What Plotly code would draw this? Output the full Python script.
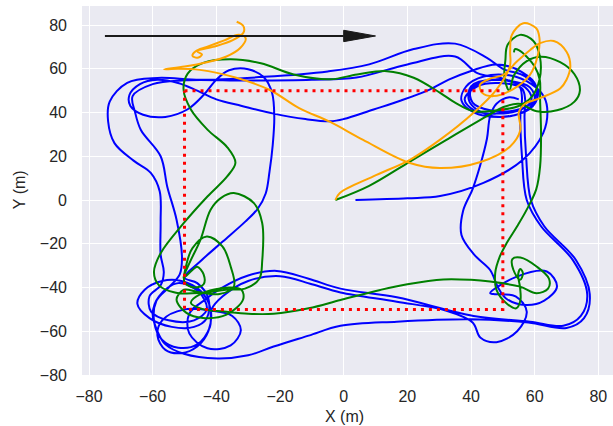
import plotly.graph_objects as go

# ---------------- data ----------------
x_ticks = [-80, -60, -40, -20, 0, 20, 40, 60, 80]
y_ticks = [-80, -60, -40, -20, 0, 20, 40, 60, 80]

# reference square (red dotted)
ref_x = [-50, 50, 50, -50, -50]
ref_y = [50, 50, -50, -50, 50]

# direction arrow
arrow_x = [-75, 0]
arrow_y = [75, 75]
arrow_head_x = [0, 10, 0, 0]
arrow_head_y = [72.4, 75, 77.6, 72.4]

blue_path = [
    (3.7, 0), (20, 0.8), (30.3, 1.8), (43.9, 7.8), (56.4, 18.5), (62.7, 30.7), (64, 40),
    (63, 47), (59, 53), (52, 57), (44, 56.5), (38.5, 52), (37, 45.5), (41, 40), (49, 38),
    (56, 40), (60, 45.5), (58.5, 51.5), (52, 54.5), (45, 54.5), (40, 50.5), (40.5, 44.5),
    (46, 41), (54, 41), (59.5, 45), (60.5, 52), (56, 58.5), (48, 62), (40, 59), (33, 55),
    (27, 50.5), (18, 45.5),
    (9.4, 41.4), (0, 37), (-4.2, 36), (-12, 37), (-22, 39.5), (-32, 43), (-40, 46), (-46, 50),
    (-52, 53.5), (-58.5, 55), (-64, 53), (-67.3, 48), (-67, 43), (-63, 39), (-56, 38),
    (-49, 41.5), (-44, 48), (-40, 55), (-36, 59.3), (-30, 59.8), (-25, 56), (-22.5, 49),
    (-21.8, 38), (-22.3, 25), (-23.3, 13), (-24.5, 3), (-27, -4), (-31, -10), (-38, -19),
    (-45, -28), (-50, -35.5),
    (-46, -38), (-42.5, -45), (-43, -54), (-47, -58), (-54, -58), (-61, -54), (-64.8, -47.5),
    (-62.5, -41), (-57, -37), (-51, -37), (-45, -41.5), (-41.8, -50), (-42.5, -60), (-46, -67),
    (-51, -70), (-56, -68.5), (-58.5, -62), (-57, -55), (-50, -50), (-42, -50.5), (-35, -53),
    (-32.3, -59.5), (-35.5, -66.5), (-42.8, -67.8), (-48.5, -61), (-48.5, -52), (-43, -45),
    (-38.7, -40.5), (-30, -34.5), (-21, -32.4), (-11, -36), (-1, -40.5), (16.7, -44.5),
    (40.8, -53), (58.5, -55.6), (69, -57.5), (74.5, -53), (76.5, -43), (72, -27.5), (62, -12),
    (57.5, 0), (56, 20), (55.5, 38), (56, 47),
    (55, 52.5), (47, 55), (40, 52), (39.5, 45), (45, 39), (53, 38.5), (59.5, 43), (61, 50),
    (57, 56.5), (50, 60), (45, 65), (35, 71.5), (22, 69), (8, 62), (-5, 58.8), (-25, 56.3),
    (-45, 55),
    (-58.5, 55.8), (-68, 53.6), (-73.5, 45), (-74, 36), (-72, 26), (-66, 18), (-60.6, 12.4),
    (-57.8, 4), (-57.5, -10), (-57.5, -25), (-56.5, -33),
    (-57.5, -39), (-61, -44), (-60.5, -51), (-55, -55), (-47, -55), (-43, -50), (-45.5, -42),
    (-52, -38), (-58, -44), (-60, -52), (-58.5, -60), (-56, -66), (-50.2, -70.3),
    (-39.7, -72.4), (-30, -71), (-22, -67), (-11, -62), (-1, -57.5), (16.7, -55.6),
    (39.7, -54.5), (58, -56), (70, -58.5), (75.5, -54), (77.3, -43), (73, -27.5), (63, -12),
    (58.8, 0), (57.3, 20), (56.8, 38), (57, 46),
    (56, 51), (49, 53.5), (42, 52), (38, 46), (41, 41), (48, 39.5), (56, 41.5), (59, 46),
    (57, 51.5), (50, 55.5), (42, 58), (35, 65.6), (20, 62), (4, 56), (-10, 55), (-30, 54.6),
    (-50, 54.7),
    (-60, 53), (-66.3, 47.5), (-65.5, 40), (-63.7, 32), (-57.5, 20), (-55.4, 6), (-52.5, -9),
    (-50.8, -26), (-51.5, -34),
    (-55, -40), (-58.8, -46), (-59.5, -56), (-57, -64), (-52, -67.5), (-46, -66), (-42, -58),
    (-41.5, -50), (-38, -44), (-30, -37), (-20, -34.8), (-10, -38.5), (-1, -42.3),
    (16.7, -46.5), (32, -50.5), (40.5, -56), (43, -63), (48, -65), (54.5, -60), (57.5, -51),
    (54, -44), (47, -43), (46, -42.6), (54.4, -35), (63.8, -32.7), (67, -39.6), (63, -46),
    (57, -48), (51, -45), (48.5, -40), (46, -32), (41, -25), (37, -16), (37.5, -5), (40.5, 5),
    (42.8, 15.4), (45, 28), (46, 38.3), (48, 44), (52, 47), (55, 46),
]

green_path = [
    (-2.6, 0), (8, 6.5), (20.8, 17.6), (32.4, 27.6), (45, 38.3), (50.2, 42.5), (55, 44),
    (60.6, 40.6), (67, 41), (72.5, 45), (74.2, 50), (72.5, 57.5), (68, 63), (62, 65.5),
    (57.5, 63.5), (53.5, 57), (52, 50),
    (50.5, 56), (50.8, 64), (51.5, 71), (55.4, 75.5), (59.6, 72.7), (61.7, 65), (61.5, 55),
    (59, 47), (55, 43),
    (48, 41), (40.8, 40.6), (35, 44.5), (30.3, 49), (22, 55.9), (13.6, 58.9), (4.2, 57.4),
    (-4.2, 55.2), (-15.7, 57.4), (-26, 62.5), (-35.5, 64.3), (-43.9, 62.8), (-49, 57.8),
    (-50.3, 50.5), (-48, 41.4), (-42.8, 32.2), (-36.5, 24), (-34, 17), (-36.6, 10.8),
    (-42.8, 1.6), (-50.2, -10.5), (-57.5, -24.3), (-59.6, -33), (-58, -39), (-53, -42.3),
    (-45, -42.5), (-37, -41), (-31, -40.5),
    (-26.5, -36), (-25.6, -28), (-25.6, -10.5), (-28.2, -1.4), (-34.5, 3.2), (-38.5, 1),
    (-41.8, -4.4), (-45, -18.2), (-48.5, -29), (-50.3, -35.5),
    (-47.5, -32), (-46, -30.5), (-44, -34), (-44, -38.5), (-47, -40), (-50, -37.5),
    (-49.5, -30), (-47.5, -22), (-43, -16.7), (-38.1, -21.2), (-35.5, -30.4), (-34.5, -39.6),
    (-39, -43), (-46, -42), (-50.2, -41),
    (-52.5, -45.5), (-49.4, -51.6), (-44.2, -53.9), (-36.8, -52.4), (-31.6, -45.5),
    (-32.1, -41), (-36, -40), (-45, -43), (-48, -47), (-44, -50), (-37.6, -51), (-30, -52),
    (-22, -52), (-11, -49.5), (-1, -45.7), (11.5, -41.1), (20, -38.5), (31.3, -36.3),
    (40, -36.5), (46, -37.3), (55.4, -39.6), (60.6, -42.6), (64.2, -40.5), (64.5, -36),
    (60.6, -30.4), (55.5, -26.3), (53, -27), (53.3, -31.9), (55.4, -36.5), (56.3, -33.5),
    (55.5, -31.5), (54.8, -34), (55.4, -40), (55.5, -46), (54.2, -49.5), (51.2, -47.3),
    (48, -41.1), (47.6, -33.4), (49, -26), (51.2, -19.7), (54.5, -12), (57.5, -4.4),
    (60.5, 5), (61.7, 15.4), (62, 30), (61.7, 45.9), (61.6, 55), (60, 61), (57.5, 65.5),
    (55, 68.5), (53.8, 69), (53.5, 67.5),
]

orange_path = [
    (-2.6, 0), (-1.2, 3.2), (9.3, 10.8), (20.8, 18.4), (30.3, 27.6), (40.8, 39.9), (48, 50.5),
    (52.2, 61), (52.3, 68), (52.8, 75.4), (56.4, 80.8), (60.5, 78.5), (61.5, 74), (61, 66.3),
    (58.5, 57.2), (53, 50.5), (47, 47.5), (43.5, 49), (42.8, 52.6), (46, 55.5), (50.1, 57.2),
    (54.4, 63.3), (58.5, 68.5), (61.7, 71.7), (66, 72.7), (70, 67.8), (71.2, 61), (70, 55),
    (68, 51), (61.7, 46.6), (57, 44), (55, 40), (55.5, 32), (52.3, 24.5), (43, 17.4),
    (30.2, 14.6), (20.8, 16.9), (6.1, 27.5), (-4.4, 35.8), (-14, 42), (-23.2, 50.3),
    (-34, 56), (-45.2, 59.5), (-52, 60), (-56.4, 59.7), (-50, 61), (-43, 63), (-37, 65.5),
    (-32.5, 69.5), (-30.8, 74), (-33, 75.5), (-37.5, 73), (-43, 70), (-46.5, 68),
    (-47.5, 66), (-46, 65), (-44.5, 66.5), (-46, 68), (-41, 70), (-35, 73), (-31.5, 76.5),
    (-31.5, 79.5), (-33.6, 81.5),
]

# ---------------- figure ----------------
fig = go.Figure()


def add_path(path, color):
    xs = [p[0] for p in path]
    ys = [p[1] for p in path]
    fig.add_trace(go.Scatter(x=xs, y=ys, mode="lines",
                             line=dict(color=color, width=2, shape="spline", smoothing=1.0),
                             hoverinfo="skip"))


add_path(blue_path, "#0000FF")
add_path(green_path, "#008000")
add_path(orange_path, "#FFA500")

fig.add_trace(go.Scatter(x=ref_x, y=ref_y, mode="lines",
                         line=dict(color="#FF0000", width=3, dash="3px,5px"),
                         hoverinfo="skip"))
fig.add_trace(go.Scatter(x=arrow_x, y=arrow_y, mode="lines",
                         line=dict(color="#1a1a1a", width=2), hoverinfo="skip"))
fig.add_trace(go.Scatter(x=arrow_head_x, y=arrow_head_y, mode="lines", fill="toself",
                         fillcolor="#1a1a1a", line=dict(color="#1a1a1a", width=1),
                         hoverinfo="skip"))

axis_common = dict(showgrid=True, gridcolor="white", gridwidth=1.3, zeroline=False,
                   showline=False, ticks="", tickfont=dict(size=16, color="#262626"))

fig.update_layout(
    width=613, height=426,
    margin=dict(l=82, r=0, t=6, b=51),
    plot_bgcolor="#EAEAF2", paper_bgcolor="white",
    showlegend=False,
    font=dict(family="Liberation Sans, Arial, sans-serif", size=16, color="#262626"),
    xaxis=dict(range=[-82.2, 84.6], tickvals=x_ticks, ticklabelstandoff=10, **axis_common),
    yaxis=dict(range=[-80, 88.7], tickvals=y_ticks, ticklabelstandoff=14, **axis_common),
    annotations=[
        dict(text="X (m)", xref="paper", yref="paper", x=0.495, y=0, yshift=-41,
             xanchor="center", yanchor="middle", showarrow=False,
             font=dict(size=16, color="#262626")),
        dict(text="Y (m)", xref="paper", yref="paper", x=0, y=0.501, xshift=-63,
             xanchor="center", yanchor="middle", textangle=-90, showarrow=False,
             font=dict(size=16, color="#262626")),
    ],
)

fig.write_html("out.html", config={"displayModeBar": False},
               post_script="document.body.style.margin='0px';document.body.style.overflow='hidden';")
